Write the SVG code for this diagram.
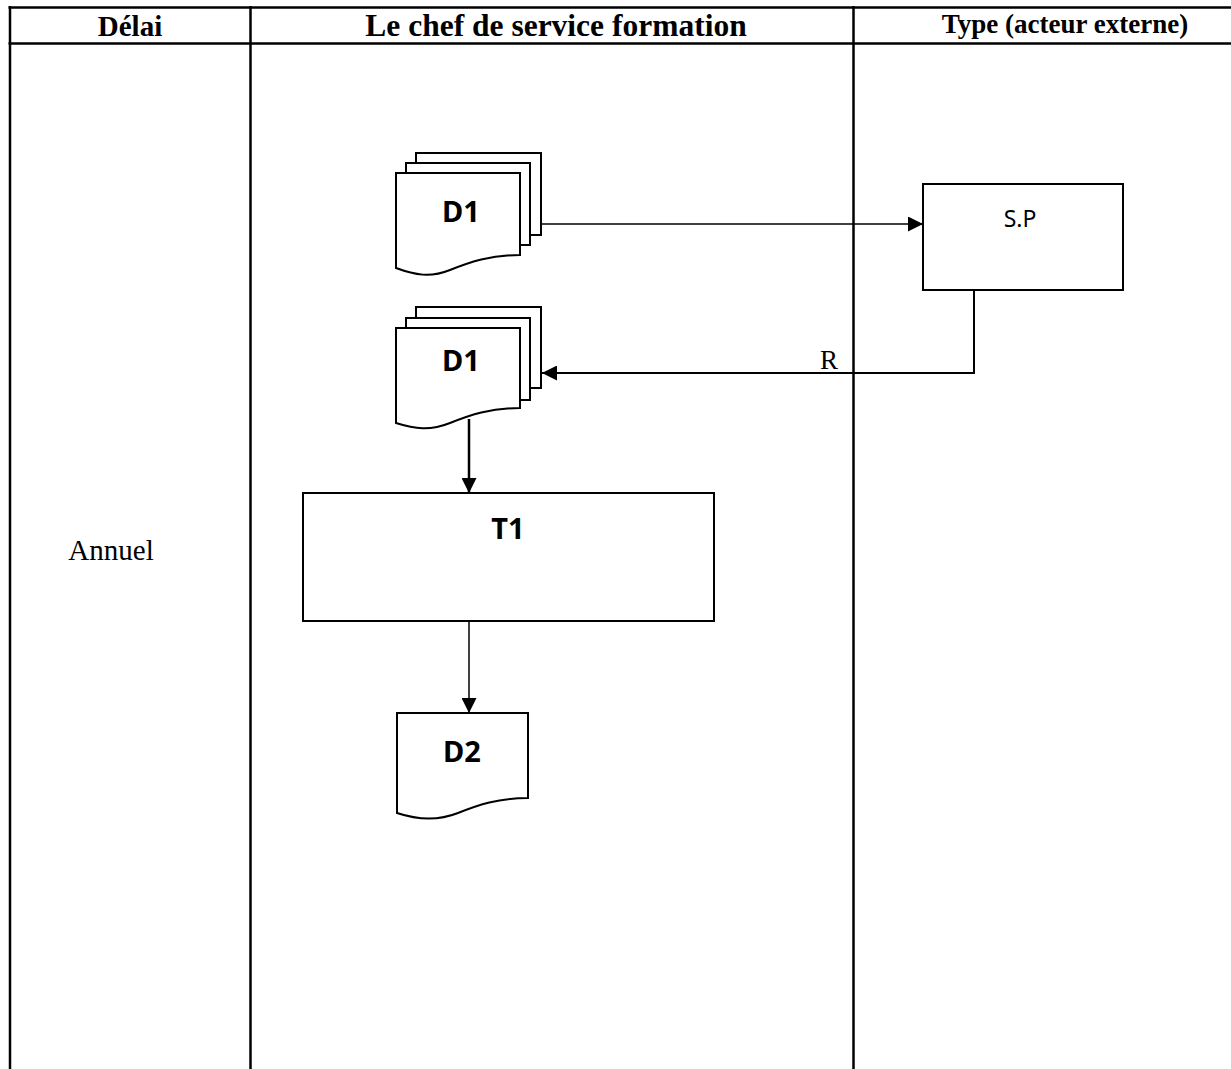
<svg xmlns="http://www.w3.org/2000/svg" width="1231" height="1069" viewBox="0 0 1231 1069">
  <style>
    .grid { stroke: #000; stroke-width: 2.5; fill: none; }
    .shape { stroke: #000; stroke-width: 2; fill: #fff; }
    .conn { stroke: #000; fill: none; }
    .head { font-family: "Liberation Serif", "Times New Roman", serif; font-weight: bold; fill: #000; text-anchor: middle; }
    .serif { font-family: "Liberation Serif", "Times New Roman", serif; fill: #000; }
    .lbl { font-family: "Noto Sans", "Open Sans", sans-serif; fill: #000; text-anchor: middle; }
    .lblb { font-family: "Noto Sans", "Open Sans", sans-serif; font-weight: bold; font-size: 29px; fill: #000; text-anchor: middle; }
  </style>
  <defs>
    <marker id="arrow" markerUnits="userSpaceOnUse" markerWidth="16" markerHeight="15" refX="15" refY="7.5" orient="auto">
      <path d="M0,0 L15,7.5 L0,15 z" fill="#000"/>
    </marker>
  </defs>
  <rect width="1231" height="1069" fill="#fff"/>

  <!-- swimlane table -->
  <g id="table">
    <line class="grid" x1="8.5" y1="7.5" x2="1231" y2="7.5"/>
    <line class="grid" x1="8.5" y1="43.5" x2="1231" y2="43.5"/>
    <line class="grid" x1="10" y1="6" x2="10" y2="1069"/>
    <line class="grid" x1="250.5" y1="6" x2="250.5" y2="1069"/>
    <line class="grid" x1="853.5" y1="6" x2="853.5" y2="1069"/>
    <text class="head" x="130" y="36" font-size="29">Délai</text>
    <text class="head" x="556" y="36" font-size="31.5">Le chef de service formation</text>
    <text class="head" x="1065" y="33" font-size="27">Type (acteur externe)</text>
    <text class="serif" x="111" y="560" font-size="29" text-anchor="middle">Annuel</text>
  </g>

  <!-- connectors -->
  <g id="connectors">
    <line class="conn" stroke-width="1.5" x1="541" y1="224" x2="923" y2="224" marker-end="url(#arrow)"/>
    <polyline class="conn" stroke-width="2" points="974,290 974,373 542,373" marker-end="url(#arrow)"/>
    <line class="conn" stroke-width="2.5" x1="469" y1="419" x2="469" y2="493" marker-end="url(#arrow)"/>
    <line class="conn" stroke-width="1.5" x1="469" y1="621" x2="469" y2="713" marker-end="url(#arrow)"/>
    <text class="serif" x="829" y="369" font-size="27" text-anchor="middle">R</text>
  </g>

  <!-- D1: multi-document sent out -->
  <g id="d1-out">
    <rect class="shape" x="416" y="153" width="125" height="82"/>
    <rect class="shape" x="406" y="163" width="124" height="82"/>
    <path class="shape" d="M396,173 H520 V255 C490,255 470,262 450,270 C430,278 415,275 396,268 Z"/>
    <text class="lblb" x="461" y="222">D1</text>
  </g>

  <!-- S.P: external actor -->
  <g id="sp">
    <rect class="shape" x="923" y="184" width="200" height="106"/>
    <text class="lbl" x="1020" y="227" font-size="23">S.P</text>
  </g>

  <!-- D1: multi-document returned -->
  <g id="d1-back">
    <rect class="shape" x="416" y="307" width="125" height="81"/>
    <rect class="shape" x="406" y="318" width="124" height="82"/>
    <path class="shape" d="M396,328 H520 V408 C490,408 470,415 450,423 C430,431 415,429 396,423 Z"/>
    <text class="lblb" x="461" y="371">D1</text>
  </g>

  <!-- T1: processing step -->
  <g id="t1">
    <rect class="shape" x="303" y="493" width="411" height="128" stroke-width="2.5"/>
    <text class="lblb" x="508" y="539">T1</text>
  </g>

  <!-- D2: resulting document -->
  <g id="d2">
    <path class="shape" d="M397,713 H528 V798 C498,798 478,805 458,813 C438,821 418,820 397,813 Z"/>
    <text class="lblb" x="462" y="762">D2</text>
  </g>
</svg>
